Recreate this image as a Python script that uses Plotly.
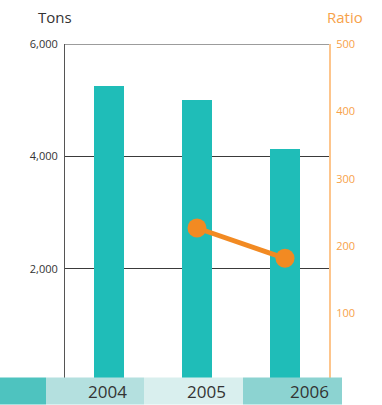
import plotly.graph_objects as go

# Data
years = ["2004", "2005", "2006"]
tons = [5250, 5000, 4130]
ratio_years = ["2005", "2006"]
ratio = [227, 182]
left_ticks = [2000, 4000, 6000]
right_ticks = [100, 200, 300, 400, 500]

W, H = 382, 405
L, R, T, B = 65, 329, 44, 381.5  # plot area edges in pixels


def px_x(px):
    return (px - L) / (R - L)


def px_y(py):
    return (B - py) / (B - T)


TEAL = "#1fbdb8"
ORANGE = "#f28a22"
ORANGE_TXT = "#f7a24a"
FONT = "Open Sans"

fig = go.Figure()
fig.add_trace(go.Bar(x=years, y=tons, marker_color=TEAL, width=0.35,
                     marker_line_width=0, yaxis="y"))
fig.add_trace(go.Scatter(x=ratio_years, y=ratio, yaxis="y2", mode="lines+markers",
                         line=dict(color=ORANGE, width=5),
                         marker=dict(color=ORANGE, size=19)))

shapes = []
# Top border line of the plot at the axis maximum
shapes.append(dict(type="line", xref="paper", yref="y", x0=0, x1=1,
                   y0=left_ticks[-1], y1=left_ticks[-1],
                   line=dict(color="#3a3a3a", width=1), layer="above"))

# Category band along the bottom
band_edges = [0, 46, 144, 243, 342]
band_colors = ["#4ec3bf", "#b4e0df", "#d9efee", "#8cd3d1"]
for i, c in enumerate(band_colors):
    shapes.append(dict(type="rect", xref="paper", yref="paper",
                       x0=px_x(band_edges[i]), x1=px_x(band_edges[i + 1]),
                       y0=px_y(405), y1=px_y(378), fillcolor=c,
                       line_width=0, layer="above"))

annotations = []
label_right = [129, 228, 331]
for yr, xr in zip(years, label_right):
    annotations.append(dict(text=yr, xref="paper", yref="paper", x=px_x(xr),
                            y=px_y(392), xanchor="right", yanchor="middle",
                            showarrow=False, font=dict(family=FONT, size=17, color="#333333")))
annotations.append(dict(text="Tons", xref="paper", yref="paper", x=px_x(36), y=px_y(17),
                        xanchor="left", yanchor="middle", showarrow=False,
                        font=dict(family=FONT, size=15, color="#333333")))
annotations.append(dict(text="Ratio", xref="paper", yref="paper", x=px_x(325), y=px_y(17),
                        xanchor="left", yanchor="middle", showarrow=False,
                        font=dict(family=FONT, size=15, color=ORANGE_TXT)))

fig.update_layout(
    width=W, height=H,
    margin=dict(l=L, r=W - R, t=T, b=H - B),
    paper_bgcolor="white", plot_bgcolor="white",
    showlegend=False,
    bargap=0,
    xaxis=dict(type="category", range=[-0.5, 2.5], showticklabels=False,
               showgrid=False, showline=False, zeroline=False, fixedrange=True),
    yaxis=dict(range=[0, 6000], tickvals=left_ticks, tickformat=",d",
               showgrid=True, gridcolor="#3a3a3a", gridwidth=1,
               showline=True, linecolor="#555555", linewidth=1,
               zeroline=False, ticks="", ticklabelstandoff=4,
               tickfont=dict(family=FONT, size=11, color="#333333")),
    yaxis2=dict(range=[0, 500], tickvals=right_ticks, overlaying="y", side="right",
                showgrid=False, showline=True, linecolor="#fdc58c", linewidth=2,
                zeroline=False, ticks="", ticklabelstandoff=3,
                tickfont=dict(family=FONT, size=11, color=ORANGE_TXT)),
    shapes=shapes,
    annotations=annotations,
)

fig.write_html("out.html")
